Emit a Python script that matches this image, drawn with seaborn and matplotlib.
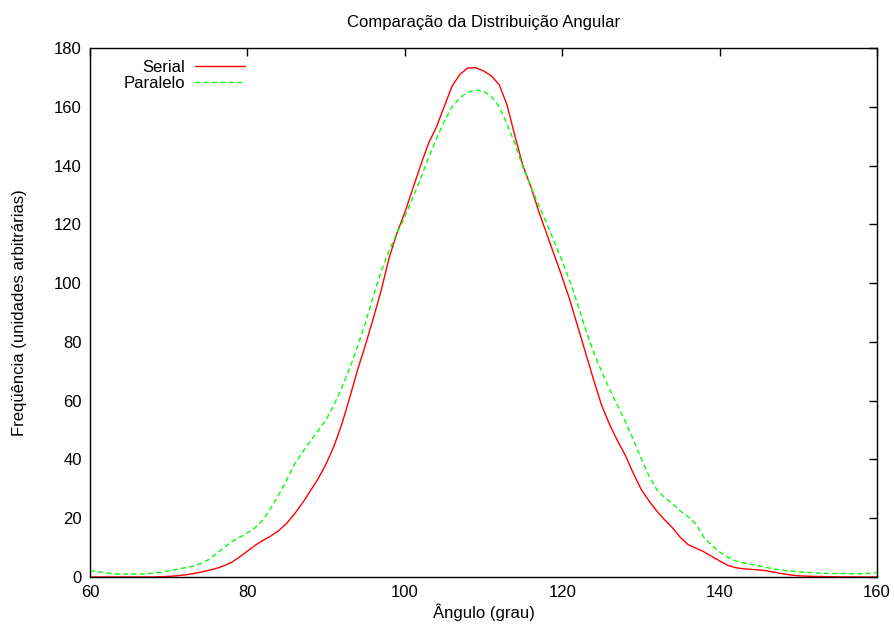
import numpy as np
import pandas as pd
import matplotlib
matplotlib.use("Agg")
import matplotlib.pyplot as plt
import seaborn as sns

# Angle grid (degrees)
angulo = list(range(60, 161))

# Serial run: angular distribution (arbitrary units)
serial = [
    0, 0, 0, 0, 0, 0, 0, 0, 0, 0.1,            # 60-69
    0.2, 0.4, 0.7, 1.1, 1.6, 2.2, 2.9, 3.8, 5.0, 6.8,   # 70-79
    8.8, 10.8, 12.5, 14.0, 15.8, 18.3, 21.5, 25.2, 29.3, 33.5,  # 80-89
    38.5, 44.5, 52.0, 61.0, 70.5, 79.0, 88.0, 97.5, 108.5, 117.0,  # 90-99
    124.0, 132.0, 140.0, 147.5, 153.0, 160.0, 167.0, 171.0, 173.2, 173.3,  # 100-109
    172.2, 170.5, 167.5, 160.5, 150.0, 140.0, 133.0, 124.5, 117.0, 109.5,  # 110-119
    102.0, 94.0, 85.0, 76.0, 67.0, 58.5, 52.0, 46.5, 41.5, 35.5,  # 120-129
    30.0, 26.0, 22.5, 19.5, 16.8, 13.5, 11.0, 9.8, 8.6, 7.0,  # 130-139
    5.5, 4.0, 3.2, 2.8, 2.6, 2.4, 2.1, 1.6, 1.1, 0.7,  # 140-149
    0.4, 0.3, 0.2, 0.15, 0.1, 0.05, 0.03, 0.02, 0.01, 0.0,  # 150-159
    0.0,  # 160
]

# Parallel run: angular distribution (arbitrary units)
paralelo = [
    2.1, 1.8, 1.4, 1.1, 1.0, 1.0, 1.0, 1.1, 1.3, 1.6,  # 60-69
    2.1, 2.6, 3.1, 3.6, 4.5, 5.8, 7.8, 10.0, 12.0, 13.5,  # 70-79
    15.0, 16.8, 19.5, 23.5, 28.0, 33.0, 38.5, 42.5, 46.2, 49.8,  # 80-89
    53.5, 58.5, 64.5, 71.0, 78.5, 86.5, 95.5, 104.0, 111.0, 117.0,  # 90-99
    122.5, 129.0, 135.5, 142.5, 149.0, 155.0, 160.0, 163.0, 165.0, 165.7,  # 100-109
    165.3, 163.5, 160.0, 154.0, 147.5, 139.5, 133.0, 126.5, 120.5, 114.0,  # 110-119
    107.5, 100.5, 92.5, 84.0, 76.5, 70.0, 64.0, 58.5, 53.0, 47.0,  # 120-129
    40.5, 34.5, 29.8, 27.0, 25.0, 22.5, 20.5, 18.0, 13.5, 10.8,  # 130-139
    8.5, 6.8, 5.5, 4.8, 4.3, 3.8, 3.2, 2.7, 2.3, 2.0,  # 140-149
    1.8, 1.6, 1.4, 1.3, 1.2, 1.2, 1.2, 1.1, 1.1, 1.2,  # 150-159
    1.5,  # 160
]

x_ticks = [60, 80, 100, 120, 140, 160]
y_ticks = [0, 20, 40, 60, 80, 100, 120, 140, 160, 180]

df = pd.DataFrame({"Ângulo": angulo, "Serial": serial, "Paralelo": paralelo})

sns.set_theme(style="white")
plt.rcParams["font.family"] = ["Liberation Sans", "DejaVu Sans"]
plt.rcParams["text.color"] = "black"
plt.rcParams["axes.labelcolor"] = "black"

fig = plt.figure(figsize=(8.95, 6.29), dpi=100)
ax = fig.add_axes([90 / 895, 52 / 629, 787 / 895, 529 / 629])

sns.lineplot(data=df, x="Ângulo", y="Serial", ax=ax, color="#ff0000",
             linewidth=1.0, label="Serial")
sns.lineplot(data=df, x="Ângulo", y="Paralelo", ax=ax, color="#00ff00",
             linewidth=1.0, label="Paralelo")
ax.lines[1].set_dashes((3.6, 2.4))

ax.set_xlim(60, 160)
ax.set_ylim(0, 180)
ax.set_xticks(x_ticks)
ax.set_yticks(y_ticks)
ax.tick_params(direction="in", length=6, width=1, colors="black",
               labelsize=12, top=True, right=True, pad=6)
for s in ax.spines.values():
    s.set_visible(True)
    s.set_color("black")
    s.set_linewidth(1.0)

ax.set_title("Comparação da Distribuição Angular", fontsize=12, pad=15,
             color="black")
ax.set_xlabel("Ângulo (grau)", fontsize=12, labelpad=2)
ax.set_ylabel("Freqüência (unidades arbitrárias)", fontsize=12, labelpad=19)

leg = ax.legend(loc="upper left", frameon=False, markerfirst=False,
                fontsize=12, handlelength=3.0, handletextpad=0.6,
                labelspacing=0.05, borderaxespad=0.3,
                bbox_to_anchor=(0.028, 1.0))
leg.get_lines()[1].set_dashes((3.6, 2.4))
for t in leg.get_texts():
    t.set_color("black")

fig.savefig("out.png", dpi=100)
